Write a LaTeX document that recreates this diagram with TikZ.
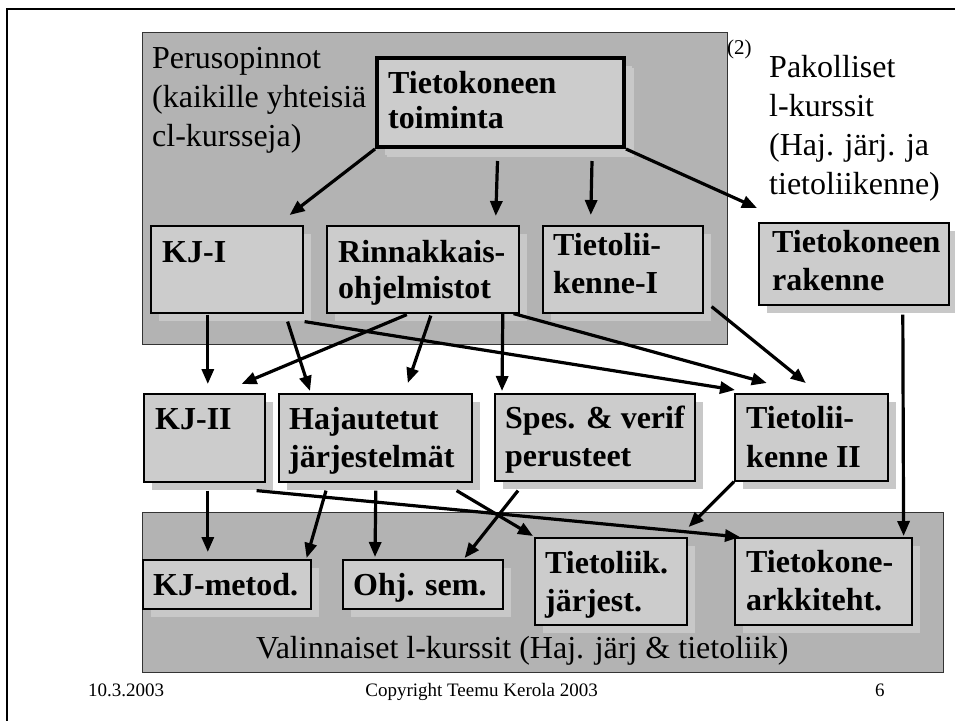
\documentclass[tikz,border=0pt]{standalone}
\usepackage{fontspec}
\setmainfont{Liberation Serif}
\newfontfamily\footfont{Liberation Serif}
\usetikzlibrary{arrows.meta,calc,shadows}
\definecolor{panelgray}{HTML}{B3B3B3}
\definecolor{boxgray}{HTML}{CCCCCC}
\definecolor{shadowgray}{HTML}{C8C8C8}
\newcommand{\fh}{\rule{0pt}{23pt}}
\tikzset{
  panel/.style={draw=black!80, line width=1.2pt, fill=panelgray, inner sep=0pt, anchor=north west},
  course/.style={draw=black, line width=1.6pt, fill=boxgray, inner sep=0pt, anchor=north west,
    general shadow={fill=shadowgray, shadow xshift=8pt, shadow yshift=-8pt}},
  ctext/.style={anchor=north west, inner sep=0pt, align=left, font=\bfseries\fontsize{32}{38}\selectfont},
  rtext/.style={anchor=north west, inner sep=0pt, align=left, font=\fontsize{32}{39}\selectfont},
  foot/.style={inner sep=0pt, font=\footfont\fontsize{19}{22}\selectfont},
  arr/.style={line width=3.2pt, -{Triangle[length=15pt,width=12pt]}}
}
\begin{document}
\begin{tikzpicture}[x=1pt,y=-1pt]
\useasboundingbox[fill=white] (0,0) rectangle (955,721);
% slide frame
\coordinate (fTL) at (7,9);
\draw[line width=2.6pt] (955,9) -- (fTL) -- (7,721);

% panels
\node[panel, minimum width=585pt, minimum height=312pt] (perus) at (142,32) {};
\node[panel, minimum width=801pt, minimum height=160pt] (valin) at (142,512) {};

% course boxes
\node[course, line width=4pt, minimum width=247pt, minimum height=89pt,
  general shadow={fill=shadowgray, shadow xshift=10pt, shadow yshift=-10pt}] (toim) at (375,56) {};
\node[course, minimum width=152pt, minimum height=87pt] (kj1) at (150,225) {};
\node[course, minimum width=192pt, minimum height=87pt] (rinn) at (326,225) {};
\node[course, minimum width=160pt, minimum height=87pt] (tl1) at (542,225) {};
\node[course, minimum width=190pt, minimum height=82pt] (rak) at (758,222) {};
\node[course, minimum width=121pt, minimum height=88pt] (kj2) at (143,393) {};
\node[course, minimum width=193pt, minimum height=88pt] (haj) at (278,393) {};
\node[course, minimum width=200pt, minimum height=87pt] (spes) at (494,393) {};
\node[course, minimum width=153pt, minimum height=87pt] (tl2) at (734,393) {};
\node[course, minimum width=168pt, minimum height=49pt] (kjm) at (142,559) {};
\node[course, minimum width=160pt, minimum height=49pt] (ohj) at (342,559) {};
\node[course, minimum width=152pt, minimum height=87pt] (tlj) at (534,537) {};
\node[course, minimum width=177pt, minimum height=87pt] (ark) at (734,537) {};

% course texts
\node[ctext, font=\bfseries\fontsize{32}{35}\selectfont] (ttoim) at ($(toim.north west)+(13,14)$) {\fh Tietokoneen\\toiminta};
\node[ctext] (tkj1) at ($(kj1.north west)+(12,14)$) {\fh KJ-I};
\node[ctext, font=\bfseries\fontsize{32}{36}\selectfont] (trinn) at ($(rinn.north west)+(12,14)$) {\fh Rinnakkais-\\ohjelmistot};
\node[ctext] (ttl1) at ($(tl1.north west)+(11,7)$) {\fh Tietolii-\\kenne-I};
\node[ctext] (trak) at ($(rak.north west)+(14,7)$) {\fh Tietokoneen\\rakenne};
\node[ctext] (tkj2) at ($(kj2.north west)+(12,13)$) {\fh KJ-II};
\node[ctext] (thaj) at ($(haj.north west)+(11,13)$) {\fh Hajautetut\\järjestelmät};
\node[ctext] (tspes) at ($(spes.north west)+(11,12)$) {\fh Spes. \& verif\\perusteet};
\node[ctext, font=\bfseries\fontsize{32}{39}\selectfont] (ttl2) at ($(tl2.north west)+(12,12)$) {\fh Tietolii-\\kenne II};
\node[ctext] (tkjm) at ($(kjm.north west)+(11,13)$) {\fh KJ-metod.};
\node[ctext] (tohj) at ($(ohj.north west)+(11,13)$) {\fh Ohj. sem.};
\node[ctext] (ttlj) at ($(tlj.north west)+(11,13)$) {\fh Tietoliik.\\järjest.};
\node[ctext] (tark) at ($(ark.north west)+(12,12)$) {\fh Tietokone-\\arkkiteht.};

% free texts
\node[rtext] (tperus) at (152,45) {\fh Perusopinnot\\(kaikille yhteisiä\\cl-kursseja)};
\node[inner sep=0pt, anchor=base west, font=\fontsize{21}{23}\selectfont] (two) at (727,54) {(2)};
\node[rtext] (tpak) at (769,54) {\fh Pakolliset\\l-kurssit\\(Haj. järj. ja\\tietoliikenne)};
\node[inner sep=0pt, anchor=base west, font=\fontsize{32}{36}\selectfont] (tvalin) at (256,658) {Valinnaiset l-kurssit (Haj. järj \& tietoliik)};

% footer
\node[foot, anchor=base west] (fdate) at (88,696) {10.3.2003};
\node[foot, anchor=base east] (fcopy) at (598,696) {Copyright Teemu Kerola 2003};
\node[foot, anchor=base west] (fpage) at (875,696) {6};

% arrows
\draw[arr] (toim.south west) -- ($(kj1.north east)+(-14,-10)$);
\draw[arr] ($(toim.south)+(-3,12)$) -- ($(rinn.north)+(73,-9)$);
\draw[arr] ($(toim.south)+(91.5,12)$) -- ($(tl1.north)+(-32,-10)$);
\draw[arr] (toim.south east) -- ($(rak.north west)+(-1,-14)$);
\draw[arr] ($(kj1.south)+(-19,1)$) -- ($(kj2.north)+(3.5,-9)$);
\draw[arr] ($(kj1.south east)+(-16,8)$) -- ($(haj.north west)+(32,-2)$);
\draw[arr] ($(kj1.south east)+(1,8)$) -- ($(tl2.north west)+(1,-3)$);
\draw[arr] ($(rinn.south)+(-16,1)$) -- ($(kj2.north east)+(-24,-9)$);
\draw[arr] ($(rinn.south)+(8,2)$) -- ($(haj.north)+(32.5,-10)$);
\draw[arr] ($(rinn.south)+(80,0)$) -- ($(spes.north west)+(8,-2)$);
\draw[arr] ($(rinn.south east)+(-6,0)$) -- ($(tl2.north)+(-44.5,-10)$);
\draw[arr] ($(tl1.south east)+(8,-7)$) -- ($(tl2.north)+(-5.5,-10)$);
\draw[arr] ($(rak.south)+(49,9)$) -- ($(ark.north east)+(-9,-1)$);
\draw[arr] ($(kj2.south)+(3.5,8)$) -- ($(kjm.north)+(-19,-7)$);
\draw[arr] ($(kj2.south east)+(-9,8)$) -- ($(ark.north west)+(6,0)$);
\draw[arr] ($(haj.south west)+(48,8)$) -- ($(kjm.north east)+(-5,-1)$);
\draw[arr] ($(haj.south)+(0.5,8)$) -- ($(ohj.north west)+(33,-2)$);
\draw[arr] ($(haj.south east)+(-16,8)$) -- ($(tlj.north west)+(-1,-1)$);
\draw[arr] ($(spes.south west)+(24,9)$) -- ($(ohj.north east)+(-39,-1)$);
\draw[arr] (tl2.south west) -- ($(tlj.north east)+(1,-10)$);
\end{tikzpicture}
\end{document}
